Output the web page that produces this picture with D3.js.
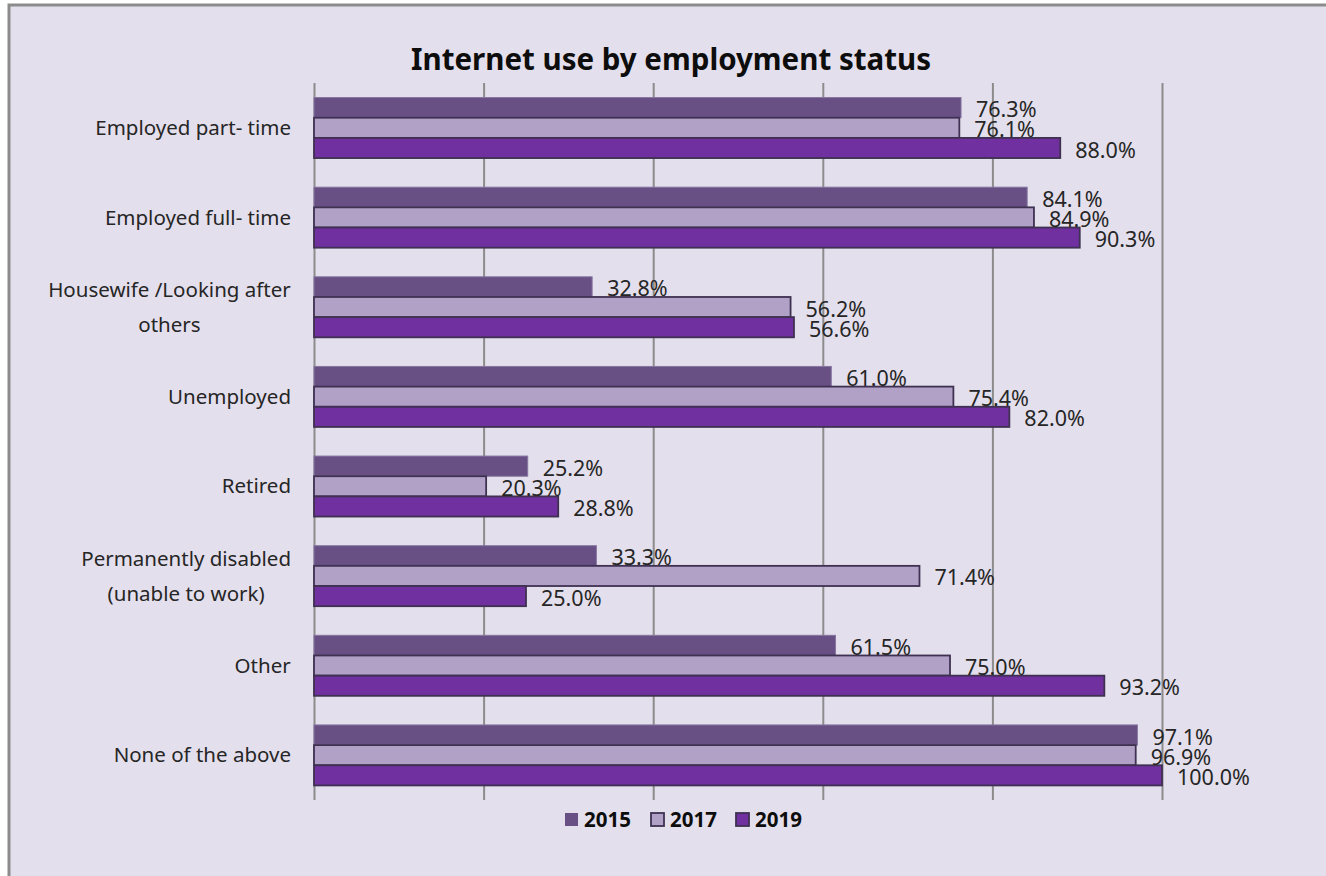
<!DOCTYPE html>
<html>
<head>
<meta charset="utf-8">
<script src="https://cdn.jsdelivr.net/npm/d3@7"></script>
<style>
  html, body { margin: 0; padding: 0; background: #ffffff; }
  svg { display: block; }
</style>
</head>
<body>
<svg id="chart" width="1326" height="876"></svg>
<script>
// Internet use by employment status, share of respondents per survey year
const categories = [
  "Employed part- time",
  "Employed full- time",
  "Housewife /Looking after\nothers",
  "Unemployed",
  "Retired",
  "Permanently disabled\n(unable to work)",
  "Other",
  "None of the above"
];
const years = ["2015", "2017", "2019"];
const values2015 = [76.3, 84.1, 32.8, 61.0, 25.2, 33.3, 61.5, 97.1];
const values2017 = [76.1, 84.9, 56.2, 75.4, 20.3, 71.4, 75.0, 96.9];
const values2019 = [88.0, 90.3, 56.6, 82.0, 28.8, 25.0, 93.2, 100.0];
const gridTicks = [0, 20, 40, 60, 80, 100];

const seriesValues = { "2015": values2015, "2017": values2017, "2019": values2019 };
const fills   = { "2015": "#684f84", "2017": "#b2a1c7", "2019": "#7030a0" };
const strokes = { "2015": "#8676a0", "2017": "#3f3151", "2019": "#3f3151" };

const svg = d3.select("#chart");
const W = 1326, H = 876;
const FONT = "'Noto Sans', 'Open Sans', sans-serif";

// Chart area background and frame
svg.append("rect")
  .attr("x", 9).attr("y", 5)
  .attr("width", W + 10).attr("height", H + 10)
  .attr("fill", "#e4dfec")
  .attr("stroke", "#8c8c8c")
  .attr("stroke-width", 3);

// Title
svg.append("text")
  .attr("x", 671).attr("y", 70)
  .attr("text-anchor", "middle")
  .attr("font-family", FONT)
  .attr("font-weight", "bold")
  .attr("font-size", 29.5)
  .attr("fill", "#0d0d0d")
  .text("Internet use by employment status");

// Scales
const plot = { left: 314, right: 1162, top: 83, bottom: 800 };
const x = d3.scaleLinear().domain([0, 100]).range([plot.left, plot.right]);
const y = d3.scaleBand()
  .domain(categories)
  .range([plot.top, plot.bottom])
  .paddingInner(0.325)
  .paddingOuter(0.1625);
const ySub = d3.scaleBand().domain(years).range([0, y.bandwidth()]).padding(0);

// Vertical gridlines (every 20%), including the value axis at 0
svg.append("g")
  .attr("transform", `translate(0,${plot.bottom})`)
  .call(d3.axisBottom(x).tickValues(gridTicks)
    .tickSize(-(plot.bottom - plot.top)).tickFormat(""))
  .call(g => g.select(".domain").remove())
  .call(g => g.selectAll(".tick line")
    .attr("stroke", "#8c8c8c").attr("stroke-width", 2));

// Category labels on the left
const labelRight = 291;
const catG = svg.append("g")
  .attr("font-family", FONT)
  .attr("font-size", 20.5)
  .attr("fill", "#262626");

categories.forEach(cat => {
  const lines = cat.split("\n");
  const cy = y(cat) + y.bandwidth() / 2;
  const lh = 35;
  const t = catG.append("text")
    .attr("text-anchor", "middle");
  lines.forEach((ln, i) => {
    t.append("tspan")
      .attr("x", 0)
      .attr("y", cy + (i - (lines.length - 1) / 2) * lh)
      .attr("dy", "0.35em")
      .text(ln);
  });
  // centre all lines on the widest one, which ends at labelRight
  const w = t.node().getBBox().width;
  t.selectAll("tspan").attr("x", labelRight - w / 2);
});

// Bars
years.forEach(yr => {
  const g = svg.append("g");
  g.selectAll("rect")
    .data(categories.map((c, i) => ({ c, v: seriesValues[yr][i] })))
    .join("rect")
    .attr("x", x(0))
    .attr("y", d => y(d.c) + ySub(yr))
    .attr("width", d => x(d.v) - x(0))
    .attr("height", ySub.bandwidth())
    .attr("fill", fills[yr])
    .attr("stroke", strokes[yr])
    .attr("stroke-width", yr === "2015" ? 1 : 1.8);
});

// Value labels
years.forEach(yr => {
  svg.append("g")
    .attr("font-family", FONT)
    .attr("font-size", 21.5)
    .attr("fill", "#262626")
    .selectAll("text")
    .data(categories.map((c, i) => ({ c, v: seriesValues[yr][i] })))
    .join("text")
    .attr("x", d => x(d.v) + 15)
    .attr("y", d => y(d.c) + ySub(yr) + ySub.bandwidth() / 2 + 2)
    .attr("dy", "0.35em")
    .text(d => d.v.toFixed(1) + "%");
});

// Legend
const legendItems = [
  { yr: "2015", x: 565 },
  { yr: "2017", x: 651 },
  { yr: "2019", x: 736 }
];
const lg = svg.append("g");
legendItems.forEach(it => {
  lg.append("rect")
    .attr("x", it.x).attr("y", 813)
    .attr("width", 13).attr("height", 13)
    .attr("fill", fills[it.yr])
    .attr("stroke", it.yr === "2015" ? "none" : strokes[it.yr])
    .attr("stroke-width", 1.8);
  lg.append("text")
    .attr("x", it.x + 19).attr("y", 819.5)
    .attr("dy", "0.35em")
    .attr("font-family", FONT)
    .attr("font-weight", "bold")
    .attr("font-size", 20.5)
    .attr("fill", "#0d0d0d")
    .text(it.yr);
});
</script>
</body>
</html>
